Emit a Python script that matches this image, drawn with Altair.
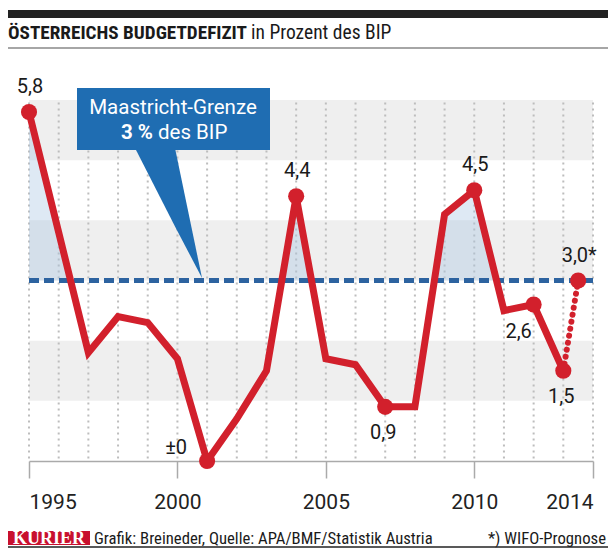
import altair as alt
import pandas as pd

# ---------------- data ----------------
years = [1995, 1996, 1997, 1998, 1999, 2000, 2001, 2002, 2003, 2004,
         2005, 2006, 2007, 2008, 2009, 2010, 2011, 2012, 2013]
deficit = [5.8, 3.8, 1.8, 2.4, 2.3, 1.7, 0.0, 0.7, 1.5, 4.4,
           1.7, 1.6, 0.9, 0.9, 4.1, 4.5, 2.5, 2.6, 1.5]

forecast_pos = [2013, 2013.5]       # WIFO forecast drawn half a step after 2013
forecast_val = [1.5, 3.0]

label_pos = [1995, 2001, 2004, 2007, 2010, 2012, 2013, 2013.5]
label_val = [5.8, 0.0, 4.4, 0.9, 4.5, 2.6, 1.5, 3.0]
label_txt = ["5,8", "±0", "4,4", "0,9", "4,5", "2,6", "1,5", "3,0*"]
label_pos_group = ["above", "left", "above", "below", "above", "belowleft", "below", "above"]

band_low = [1, 3, 5]
band_high = [2, 4, 6]
grid_years = list(range(1995, 2015))
axis_ticks = [1995, 2000, 2005, 2010, 2014]
limit = 3.0

RED = "#d2202c"
BLUE = "#1f6db2"
DASH = "#2d63a0"
FONT = "Roboto"
COND = "Roboto Condensed"

W, H = 564, 361
X0, X1, Y0, Y1 = 1995, 2014, 0, 6

# ---------------- tables ----------------
line_df = pd.DataFrame({"year": years, "value": deficit})
fc_df = pd.DataFrame({"year": forecast_pos, "value": forecast_val})
lab_df = pd.DataFrame({"year": label_pos, "value": label_val, "label": label_txt, "grp": label_pos_group})
band_df = pd.DataFrame({"lo": band_low, "hi": band_high, "x0": [X0] * 3, "x1": [X1] * 3})
grid_df = pd.DataFrame({"year": grid_years, "lo": [0.04] * len(grid_years), "hi": [Y1] * len(grid_years)})

# area above the Maastricht limit (crossing points from the line segments)
ax, ay = [], []
for i in range(len(years)):
    ax.append(years[i])
    ay.append(max(deficit[i], limit))
    if i + 1 < len(years):
        a, b = deficit[i] - limit, deficit[i + 1] - limit
        if a * b < 0:
            t = a / (a - b)
            ax.append(years[i] + t * (years[i + 1] - years[i]))
            ay.append(limit)
area_df = pd.DataFrame({"year": ax, "value": ay, "base": [limit] * len(ax)})


# callout pointer: pixel offsets inside the plot converted to data space
def px2x(p):
    return X0 + p / W * (X1 - X0)


def py2y(p):
    return Y1 - p / H * (Y1 - Y0)


tri_df = pd.DataFrame({
    "year": [px2x(106), px2x(146), px2x(173)],
    "top": [py2y(48), py2y(48), py2y(178)],
    "bot": [py2y(48), py2y(126.4), py2y(178)],
})

xs = alt.Scale(domain=[X0, X1], nice=False, zero=False)
ys = alt.Scale(domain=[Y0, Y1], nice=False, zero=False)


def X(field):
    return alt.X(field, type="quantitative", scale=xs,
                 axis=alt.Axis(values=axis_ticks, format="d", title=None, grid=False,
                               labelFont=FONT, labelFontSize=21, labelColor="#222222",
                               tickSize=17, tickColor="#aaaaaa", tickWidth=1.5,
                               domainColor="#aaaaaa", domainWidth=1.5, labelPadding=13))


def Y(field):
    return alt.Y(field, type="quantitative", scale=ys, axis=None)


one = pd.DataFrame({"a": [0]})

bands = alt.Chart(band_df).mark_rect(color="#efefef").encode(
    x=X("x0"), x2="x1", y=Y("lo"), y2="hi")

grid = alt.Chart(grid_df).mark_rule(color="#bdbdbd", strokeWidth=2, strokeDash=[2, 4]).encode(
    x=X("year"), y=Y("lo"), y2="hi")

area = alt.Chart(area_df).mark_area(color="#a9c6e3", opacity=0.38).encode(
    x=X("year"), y=Y("value"), y2="base")

limit_line = alt.Chart(pd.DataFrame({"x0": [X0], "x1": [X1], "v": [limit]})).mark_rule(
    color=DASH, strokeWidth=5, strokeDash=[10, 5]).encode(
    x=X("x0"), x2="x1", y=Y("v"))

tri = alt.Chart(tri_df).mark_area(color=BLUE).encode(
    x=X("year"), y=Y("top"), y2="bot")
box = alt.Chart(one).mark_rect(color=BLUE).encode(
    x=alt.value(48), x2=alt.value(241), y=alt.value(-12), y2=alt.value(50))
box_t1 = alt.Chart(one).mark_text(font=FONT, fontSize=20.5, color="white", align="center",
                                  baseline="middle").encode(
    x=alt.value(144), y=alt.value(8), text=alt.value("Maastricht-Grenze"))
box_t2 = alt.Chart(one).mark_text(font=FONT, fontSize=20.5, fontWeight="bold", color="white",
                                  align="right", baseline="middle").encode(
    x=alt.value(124), y=alt.value(33), text=alt.value("3 %"))
box_t3 = alt.Chart(one).mark_text(font=FONT, fontSize=20.5, color="white", align="left",
                                  baseline="middle").encode(
    x=alt.value(129), y=alt.value(33), text=alt.value("des BIP"))

line = alt.Chart(line_df).mark_line(color=RED, strokeWidth=7).encode(x=X("year"), y=Y("value"))
fc = alt.Chart(fc_df).mark_line(color=RED, strokeWidth=6, strokeDash=[0.1, 7], strokeCap="round").encode(
    x=X("year"), y=Y("value"))
dots = alt.Chart(lab_df).mark_circle(color=RED, size=260, opacity=1).encode(x=X("year"), y=Y("value"))


def labels(grp, dx, dy):
    return alt.Chart(lab_df).transform_filter(alt.datum.grp == grp).mark_text(
        font=FONT, fontSize=20, color="#1a1a1a", dx=dx, dy=dy, baseline="middle").encode(
        x=X("year"), y=Y("value"), text="label:N")


lab_layers = [labels("above", 1, -25), labels("left", -31, -13),
              labels("below", -2, 26), labels("belowleft", -15, 27)]

# header / footer
bar = alt.Chart(one).mark_rect(color="#222222").encode(
    x=alt.value(-21), x2=alt.value(579), y=alt.value(-90), y2=alt.value(-82))
hrule = alt.Chart(one).mark_rule(color="#888888", strokeWidth=1.5).encode(
    x=alt.value(-21), x2=alt.value(579), y=alt.value(-52))
title_b = alt.Chart(one).mark_text(font=COND, fontSize=19.2, fontWeight="bold", color="#1a1a1a",
                                   align="left", baseline="alphabetic").encode(
    x=alt.value(-21), y=alt.value(-61), text=alt.value("ÖSTERREICHS BUDGETDEFIZIT"))
title_r = alt.Chart(one).mark_text(font=COND, fontSize=19.5, color="#1a1a1a",
                                   align="left", baseline="alphabetic").encode(
    x=alt.value(222), y=alt.value(-61), text=alt.value("in Prozent des BIP"))

logo = alt.Chart(one).mark_rect(color="#c8102e").encode(
    x=alt.value(-21), x2=alt.value(61), y=alt.value(431), y2=alt.value(445))
logo_t = alt.Chart(one).mark_text(font="Liberation Serif", fontSize=18, fontWeight="bold", color="white",
                                  align="center", baseline="alphabetic").encode(
    x=alt.value(20), y=alt.value(444), text=alt.value("KURIER"))
foot_l = alt.Chart(one).mark_text(font=COND, fontSize=16.7, color="#1a1a1a", align="left",
                                  baseline="alphabetic").encode(
    x=alt.value(65), y=alt.value(444), text=alt.value("Grafik: Breineder, Quelle: APA/BMF/Statistik Austria"))
foot_r = alt.Chart(one).mark_text(font=COND, fontSize=16.7, color="#1a1a1a", align="right",
                                  baseline="alphabetic").encode(
    x=alt.value(577), y=alt.value(444), text=alt.value("*) WIFO-Prognose"))
frule = alt.Chart(one).mark_rule(color="#222222", strokeWidth=1.5).encode(
    x=alt.value(-21), x2=alt.value(579), y=alt.value(447))

chart = alt.layer(
    bands, grid, area, limit_line, tri, box, box_t1, box_t2, box_t3,
    line, fc, dots, *lab_layers,
    bar, hrule, title_b, title_r, logo, logo_t, foot_l, foot_r, frule
).properties(
    width=W, height=H,
    padding={"left": 21, "top": 92, "right": 15, "bottom": 87},
    autosize=alt.AutoSizeParams(type="none"),
).configure_view(stroke=None)

chart.save("out.html", embed_options={"renderer": "svg", "actions": False})
